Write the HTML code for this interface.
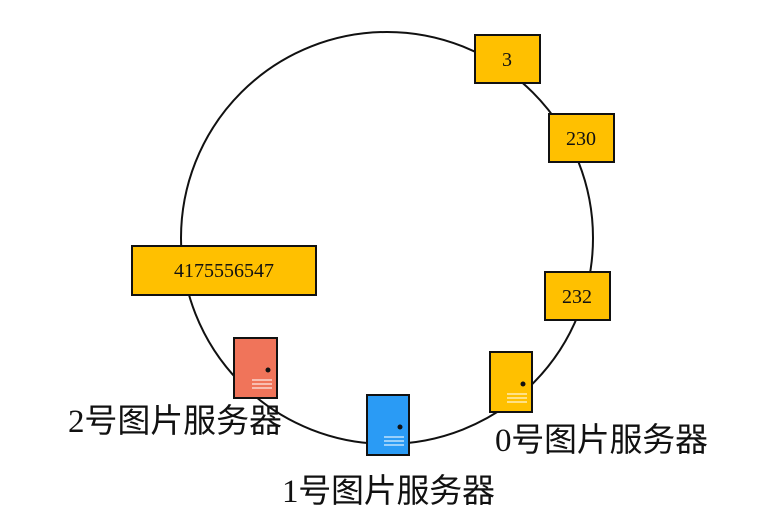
<!DOCTYPE html>
<html><head><meta charset="utf-8"><style>
body{margin:0;background:#fff;width:770px;height:525px;overflow:hidden}
svg{display:block}
.b{fill:#FFC000;stroke:#111;stroke-width:2}
.t{font-family:"Liberation Serif",serif;font-size:20px;fill:#111}
.c{font-family:"Liberation Serif","Noto Sans CJK SC",sans-serif;font-size:33px;fill:#111}
</style></head><body>
<svg width="770" height="525" viewBox="0 0 770 525">
<circle cx="387" cy="238" r="206" fill="none" stroke="#111" stroke-width="2"/>
<rect class="b" x="475" y="35" width="65" height="48"/><text class="t" x="507" y="66" text-anchor="middle">3</text>
<rect class="b" x="549" y="114" width="65" height="48"/><text class="t" x="581" y="145" text-anchor="middle">230</text>
<rect class="b" x="545" y="272" width="65" height="48"/><text class="t" x="577" y="303" text-anchor="middle">232</text>
<rect class="b" x="132" y="246" width="184" height="49"/><text class="t" x="224" y="277" text-anchor="middle">4175556547</text>
<g stroke="#111" stroke-width="2">
<rect x="234" y="338" width="43" height="60" fill="#F0745A"/>
<rect x="367" y="395" width="42" height="60" fill="#2A9BF5"/>
<rect x="490" y="352" width="42" height="60" fill="#FFC000"/>
</g>
<g fill="#111"><circle cx="268" cy="370" r="2.5"/><circle cx="400" cy="427" r="2.5"/><circle cx="523" cy="384" r="2.5"/></g>
<g stroke="#fff" stroke-opacity="0.7" stroke-width="1.5">
<path d="M252 380h20M252 384h20M252 388h20"/>
<path d="M384 437h20M384 441h20M384 445h20"/>
<path d="M507 394h20M507 398h20M507 402h20"/>
</g>
<text class="c" x="68" y="432" textLength="214">2号图片服务器</text>
<text class="c" x="282" y="502" textLength="213">1号图片服务器</text>
<text class="c" x="495" y="451" textLength="213">0号图片服务器</text>
</svg>
</body></html>
